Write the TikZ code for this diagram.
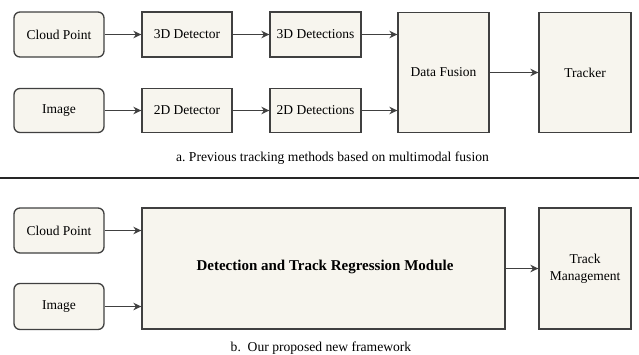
\documentclass[tikz,border=0pt]{standalone}
\usepackage{fontspec}
\setmainfont{Liberation Serif}
\usetikzlibrary{arrows.meta}
\definecolor{boxfill}{HTML}{F7F5EE}
\definecolor{boxline}{HTML}{404040}
\begin{document}
\begin{tikzpicture}[x=1pt,y=-1pt,
  box/.style={draw=boxline,fill=boxfill,line width=1.3pt,inner sep=0pt,align=center,font=\fontsize{13.5}{17}\selectfont},
  rbox/.style={box,rounded corners=6pt},
  arr/.style={draw=boxline,line width=1.3pt,-{Stealth[length=8pt,width=7.5pt]}},
  captext/.style={font=\fontsize{13.6}{16}\selectfont,inner sep=0pt}]
\useasboundingbox (0,0) rectangle (639,354);
% top
\node[rbox,minimum width=90pt,minimum height=45pt] (cp1) at (59,34.5) {Cloud Point};
\node[box,minimum width=90pt,minimum height=45pt] (d3) at (187,34.5) {3D Detector};
\node[box,minimum width=91pt,minimum height=45pt] (dt3) at (315.5,34.5) {3D Detections};
\node[rbox,minimum width=90pt,minimum height=44pt] (im1) at (59,110.5) {Image};
\node[box,minimum width=90pt,minimum height=44pt] (d2) at (187,110.5) {2D Detector};
\node[box,minimum width=91pt,minimum height=44pt] (dt2) at (315.5,110.5) {2D Detections};
\node[box,minimum width=91pt,minimum height=120pt] (df) at (443.5,72.5) {Data Fusion};
\node[box,minimum width=92pt,minimum height=120pt] (tr) at (585,72.5) {Tracker};
\draw[arr] (cp1) -- (d3);
\draw[arr] (d3) -- (dt3);
\draw[arr] (im1) -- (d2);
\draw[arr] (d2) -- (dt2);
\draw[arr] (dt3.east) -- (dt3.east -| df.west);
\draw[arr] (dt2.east) -- (dt2.east -| df.west);
\draw[arr] (df) -- (tr);
\node[captext] (capa) at (332.5,158) {a.\ Previous tracking methods based on multimodal fusion};
\coordinate (l0) at (0,177.5);
\coordinate (l1) at (639,177.5);
\draw[line width=2pt,draw=black!85] (l0) -- (l1);
% bottom
\node[rbox,minimum width=90pt,minimum height=45pt] (cp2) at (59,230.5) {Cloud Point};
\node[rbox,minimum width=90pt,minimum height=46pt] (im2) at (59,306.5) {Image};
\node[box,minimum width=363pt,minimum height=121pt] (dtr) at (323.5,268.5) {};
\node[font=\fontsize{15}{18}\selectfont\bfseries,inner sep=0pt] (dtrl) at (325,267) {Detection and Track Regression Module};
\node[box,minimum width=92pt,minimum height=121pt] (tm) at (585,268.5) {Track\\Management};
\draw[arr] (cp2.east) -- (cp2.east -| dtr.west);
\draw[arr] (im2.east) -- (im2.east -| dtr.west);
\draw[arr] (dtr) -- (tm);
\node[captext] (capb) at (321,348) {b.\ \ Our proposed new framework};
\end{tikzpicture}
\end{document}
